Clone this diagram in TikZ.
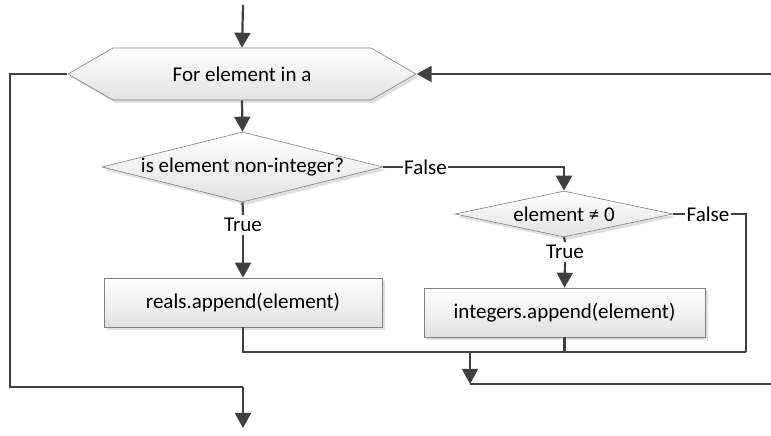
\documentclass[tikz,border=0pt]{standalone}
\usepackage{fontspec}
\setmainfont{Carlito}
\usetikzlibrary{shapes.geometric,shapes.symbols,shadows,arrows.meta}
\definecolor{linegray}{HTML}{404040}
\definecolor{edgegray}{HTML}{808080}
\definecolor{fillgray}{HTML}{E2E2E2}
\begin{document}
\begin{tikzpicture}[x=1pt, y=1pt, >={Triangle[width=16pt,length=15pt]},
    flow/.style={draw=linegray, line width=2.2pt},
    flowshape/.style={draw=edgegray, line width=0.6pt, top color=white, bottom color=fillgray,
        drop shadow={shadow xshift=2.5pt, shadow yshift=-3pt, fill=black!25, opacity=0.5},
        inner sep=0pt, font=\fontsize{21}{25}\selectfont},
    loophex/.style={flowshape, signal, signal to=west and east, signal pointer angle=60,
        minimum width=348pt, minimum height=52pt},
    decision/.style={flowshape, diamond},
    block/.style={flowshape, rectangle, minimum height=49pt},
    tag/.style={inner xsep=1pt, inner ysep=3pt, font=\fontsize{21}{25}\selectfont}]
    \useasboundingbox (0,0) rectangle (771,436);
    % shapes
    \node[loophex] (loop) at (242,362) {For element in a};
    \node[decision, aspect=4, minimum width=281pt, minimum height=70pt] (isreal) at (242.5,269) {is element non-integer?};
    \node[decision, aspect=4.7, minimum width=218pt, minimum height=46pt] (nonzero) at (564,222) {element ≠ 0};
    \node[block, minimum width=278pt] (reals) at (243,133.5) {reals.append(element)};
    \node[block, minimum width=281pt] (ints) at (564.5,123.5) {integers.append(element)};
    % labels
    \node[tag] (realF) at (425.5,269) {False};
    \node[tag] (realT) at (243,211) {True};
    \node[tag] (zeroF) at (708,222) {False};
    \node[tag] (zeroT) at (565,184) {True};
    % free ends
    \coordinate (start) at (243,431);
    \coordinate (back) at (771,362);
    \coordinate (lcorner) at (10,49);
    \coordinate (exit) at (243,49);
    \coordinate (finish) at (243,8);
    \coordinate (join) at (746,84);
    \coordinate (next) at (470,84);
    \coordinate (nextin) at (470,52);
    \coordinate (nextout) at (771,52);
    % connectors
    \draw[flow, ->] (start) -- (loop.north);
    \draw[flow, ->] (back) -- (loop.east);
    \draw[flow, ->] (loop.south) -- (isreal.north);
    \draw[flow] (isreal.east) -- (realF.west);
    \draw[flow, ->] (realF.east) -| (nonzero.north);
    \draw[flow] (isreal.south) -- (realT.north);
    \draw[flow, ->] (realT.south) -- (reals.north);
    \draw[flow] (nonzero.south) -- (zeroT.north);
    \draw[flow, ->] (zeroT.south) -- (ints.north);
    \draw[flow] (nonzero.east) -- (zeroF.west);
    \draw[flow] (zeroF.east) -| (join);
    \draw[flow] (reals.south) |- (join);
    \draw[flow] (ints.south) -- (ints.south |- join);
    \draw[flow, ->] (next) -- (nextin);
    \draw[flow] (nextin) -- (nextout);
    \draw[flow] (loop.west) -| (lcorner) -- (exit);
    \draw[flow, ->] (exit) -- (finish);
\end{tikzpicture}
\end{document}
